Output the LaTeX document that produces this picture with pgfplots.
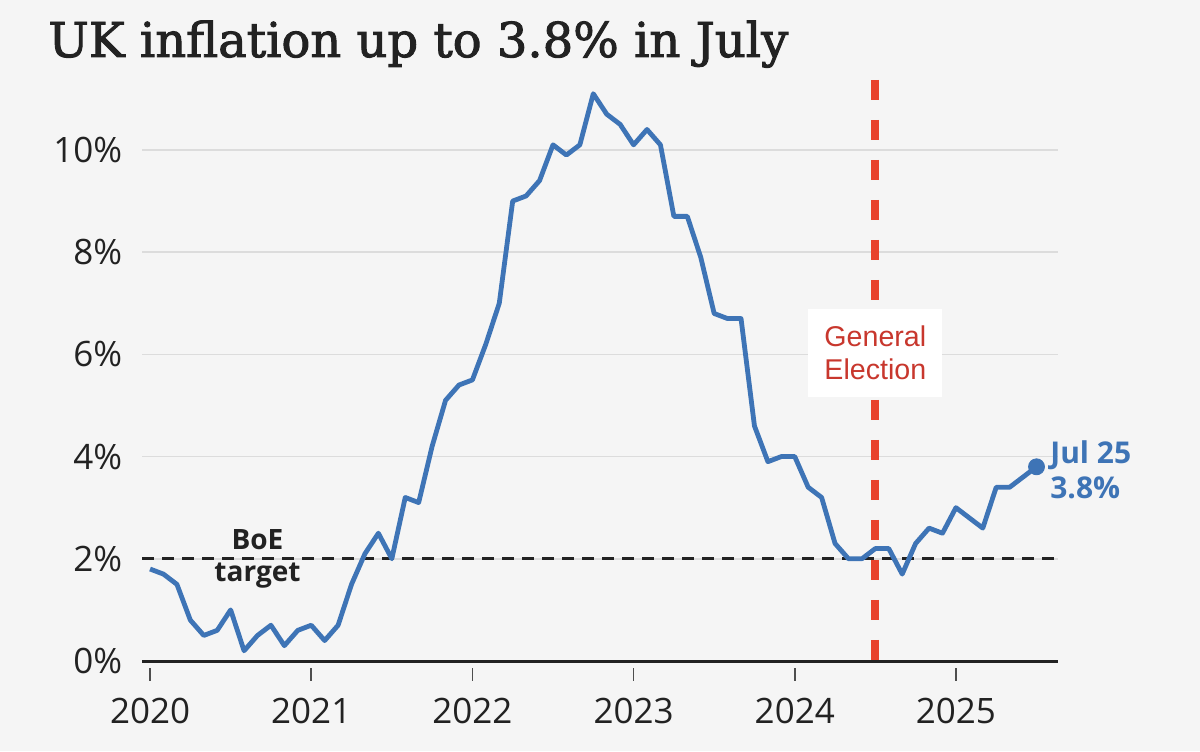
\documentclass[border=0pt]{standalone}
\usepackage{fontspec}
\usepackage{pgfplots}
\usepackage{pgfplotstable}
\pgfplotsset{compat=1.18}
\setmainfont{Open Sans}
\newfontfamily\titlefont[FakeBold=2]{DejaVu Serif}
\newfontfamily\labelfont{Liberation Sans}

\definecolor{bg}{HTML}{F5F5F5}
\definecolor{cpiblue}{HTML}{3E74B6}
\definecolor{elecred}{HTML}{E8412C}
\definecolor{electext}{HTML}{C8372D}
\definecolor{ink}{HTML}{222222}
\definecolor{gridc}{HTML}{DCDCDC}

% UK CPI, monthly from Jan 2020 (m = months since Jan 2020)
\pgfplotstableread{
m cpi
0 1.8
1 1.7
2 1.5
3 0.8
4 0.5
5 0.6
6 1.0
7 0.2
8 0.5
9 0.7
10 0.3
11 0.6
12 0.7
13 0.4
14 0.7
15 1.5
16 2.1
17 2.5
18 2.0
19 3.2
20 3.1
21 4.2
22 5.1
23 5.4
24 5.5
25 6.2
26 7.0
27 9.0
28 9.1
29 9.4
30 10.1
31 9.9
32 10.1
33 11.1
34 10.7
35 10.5
36 10.1
37 10.4
38 10.1
39 8.7
40 8.7
41 7.9
42 6.8
43 6.7
44 6.7
45 4.6
46 3.9
47 4.0
48 4.0
49 3.4
50 3.2
51 2.3
52 2.0
53 2.0
54 2.2
55 2.2
56 1.7
57 2.3
58 2.6
59 2.5
60 3.0
61 2.8
62 2.6
63 3.4
64 3.4
65 3.6
66 3.8
}\cpi

\begin{document}
\begin{tikzpicture}
\fill[bg] (0,0) rectangle (600pt,375.5pt);
\node[anchor=base west, inner sep=0pt, text=ink,
      font=\titlefont\fontsize{24}{29}\selectfont]
      at (24pt,347pt) {UK inflation up to 3.8\% in July};
\begin{axis}[
    at={(71pt,45pt)}, anchor=south west,
    scale only axis, width=458pt, height=291.3pt,
    xmin=-0.6, xmax=67.6, ymin=0, ymax=11.4,
    axis x line=bottom, axis y line=left,
    x axis line style={-, line width=1.5pt, draw=ink},
    y axis line style={draw=none},
    xtick={0,12,24,36,48,60},
    xticklabels={2020,2021,2022,2023,2024,2025},
    ytick={0,2,4,6,8,10},
    yticklabels={0\%,2\%,4\%,6\%,8\%,10\%},
    ytick style={draw=none},
    xtick style={draw=ink!80, line width=0.8pt, yshift=-6.5pt},
    major tick length=6.5pt,
    ymajorgrids,
    grid style={draw=gridc, line width=0.8pt},
    ticklabel style={font=\fontsize{17.5}{20}\selectfont, text=ink},
    /pgf/number format/assume math mode=true,
    yticklabel style={anchor=east, inner sep=0pt, xshift=-6.5pt},
    xticklabel style={anchor=base, inner sep=0pt, yshift=-28pt},
    clip=false,
]
\addplot[ink, line width=1.5pt, dash pattern=on 6pt off 4pt]
    coordinates {(-0.6,2) (67.6,2)};
\addplot[cpiblue, line width=2.4pt, line join=round] table[x=m, y=cpi] {\cpi};
\addplot[only marks, mark=*, mark size=4pt, cpiblue] coordinates {(66,3.8)};
\addplot[elecred, line width=4pt, dash pattern=on 10pt off 10pt]
    coordinates {(54,11.37) (54,0)};
\node[fill=white, text=electext, align=center, inner sep=0pt,
      minimum width=67pt, minimum height=44pt,
      font=\labelfont\fontsize{14.3}{16.5}\selectfont]
      at (axis cs:54,6.03) {General\\Election};
\node[anchor=west, align=left, inner sep=0pt, text=cpiblue,
      font=\bfseries\fontsize{15}{17.5}\selectfont]
      at (axis cs:67,3.75) {Jul 25\\3.8\%};
\node[align=center, inner sep=0pt, text=ink,
      font=\bfseries\fontsize{14}{16}\selectfont]
      at (axis cs:8,2.0) {BoE\\target};
\end{axis}
\end{tikzpicture}
\end{document}
